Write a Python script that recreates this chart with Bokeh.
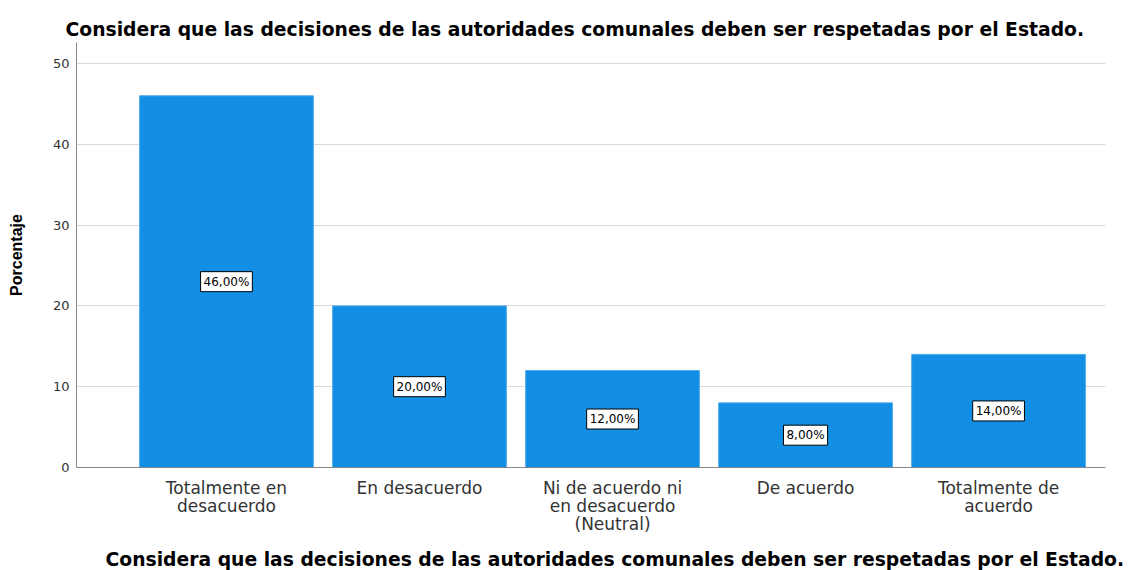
from bokeh.plotting import figure
from bokeh.models import ColumnDataSource, Label, FixedTicker, Range1d, Title
from bokeh.embed import file_html
from bokeh.resources import INLINE

categories = ["Totalmente en\ndesacuerdo", "En desacuerdo", "Ni de acuerdo ni\nen desacuerdo\n(Neutral)",
              "De acuerdo", "Totalmente de\nacuerdo"]
values = [46.0, 20.0, 12.0, 8.0, 14.0]
labels = ["46,00%", "20,00%", "12,00%", "8,00%", "14,00%"]
y_ticks = [0, 10, 20, 30, 40, 50]
title_text = "Considera que las decisiones de las autoridades comunales deben ser respetadas por el Estado."

xs = list(range(len(categories)))
src = ColumnDataSource(dict(x=xs, top=values))

p = figure(frame_width=1029, frame_height=425, output_backend="svg", toolbar_location=None,
           x_range=Range1d(-0.777, 4.554), y_range=Range1d(0, 52.6),
           min_border_left=76, min_border_right=20, min_border_top=42, min_border_bottom=60)
p.outline_line_color = None

p.vbar(x="x", top="top", width=0.9, source=src, fill_color="#128FE4", line_color="#4FA9EA", line_width=1)

for xi, v, lab in zip(xs, values, labels):
    p.add_layout(Label(x=xi, y=v / 2, text=lab, text_align="center", text_baseline="middle",
                       text_font="DejaVu Sans", text_font_size="12px", text_color="black",
                       background_fill_color="white", border_line_color="black", border_line_width=1,
                       padding=3))

# axes
p.xaxis.ticker = FixedTicker(ticks=xs)
p.xaxis.major_label_overrides = {i: c for i, c in enumerate(categories)}
p.xaxis.major_label_text_font = "DejaVu Sans"
p.xaxis.major_label_text_font_size = "17px"
p.xaxis.major_label_text_color = "#333333"
p.xaxis.major_label_text_line_height = 0.9
p.xaxis.major_tick_line_color = None
p.xaxis.minor_tick_line_color = None
p.xaxis.axis_line_color = "#888888"
p.xaxis.major_label_standoff = 4

p.yaxis.ticker = FixedTicker(ticks=y_ticks)
p.yaxis.major_label_text_font = "DejaVu Sans"
p.yaxis.major_label_text_font_size = "13px"
p.yaxis.major_label_text_color = "#333333"
p.yaxis.major_tick_line_color = None
p.yaxis.major_tick_out = 0
p.yaxis.minor_tick_line_color = None
p.yaxis.minor_tick_out = 0
p.yaxis.axis_line_color = "#888888"
p.yaxis.major_label_standoff = 7
p.yaxis.axis_label = "Porcentaje"
p.yaxis.axis_label_text_font = "Liberation Sans"
p.yaxis.axis_label_text_font_style = "bold"
p.yaxis.axis_label_text_font_size = "16px"
p.yaxis.axis_label_text_color = "black"
p.yaxis.axis_label_standoff = 25

p.xgrid.grid_line_color = None
p.ygrid.grid_line_color = "#D9D9D9"
p.ygrid.grid_line_width = 1

p.title = Title(text=title_text, align="left", text_font="DejaVu Sans", text_font_style="bold",
                text_font_size="18.75px", text_color="black", offset=-11, standoff=5)
p.add_layout(Title(text=title_text, align="left", text_font="DejaVu Sans", text_font_style="bold",
                   text_font_size="18.75px", text_color="black", offset=29, standoff=20), "below")

open("out.html", "w").write(file_html(p, INLINE))
